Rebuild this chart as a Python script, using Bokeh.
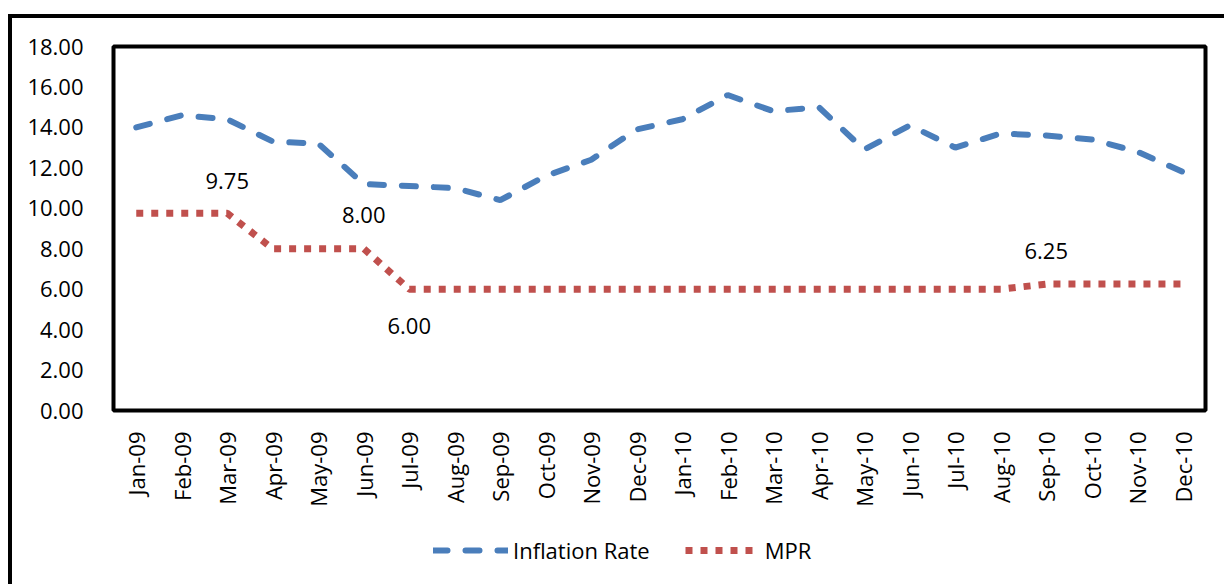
import math
from bokeh.plotting import figure
from bokeh.layouts import column
from bokeh.models import Range1d, FactorRange, Legend, LegendItem, NumeralTickFormatter, ColumnDataSource
from bokeh.core.properties import value
from bokeh.embed import file_html
from bokeh.resources import INLINE

months = ["Jan-09", "Feb-09", "Mar-09", "Apr-09", "May-09", "Jun-09", "Jul-09", "Aug-09",
          "Sep-09", "Oct-09", "Nov-09", "Dec-09", "Jan-10", "Feb-10", "Mar-10", "Apr-10",
          "May-10", "Jun-10", "Jul-10", "Aug-10", "Sep-10", "Oct-10", "Nov-10", "Dec-10"]
inflation = [14.0, 14.6, 14.4, 13.3, 13.2, 11.2, 11.1, 11.0, 10.4, 11.6, 12.4, 13.9,
             14.4, 15.6, 14.8, 15.0, 12.9, 14.1, 13.0, 13.7, 13.6, 13.4, 12.8, 11.8]
mpr = [9.75, 9.75, 9.75, 8.00, 8.00, 8.00, 6.00, 6.00, 6.00, 6.00, 6.00, 6.00,
       6.00, 6.00, 6.00, 6.00, 6.00, 6.00, 6.00, 6.00, 6.25, 6.25, 6.25, 6.25]
label_months = ["Mar-09", "Jun-09", "Jul-09", "Sep-10"]
label_values = [9.75, 8.00, 6.00, 6.25]
label_texts = ["9.75", "8.00", "6.00", "6.25"]
series_names = ["Inflation Rate", "MPR"]
y_ticks = [0, 2, 4, 6, 8, 10, 12, 14, 16, 18]

FONT = "Open Sans"
FS = "22px"
BLUE = dict(line_color="#4A7EBB", line_width=6, line_dash="14 18", line_cap="round")
RED = dict(line_color="#C0504D", line_width=7, line_dash="7 8", line_cap="butt")

p = figure(x_range=FactorRange(*months), y_range=Range1d(0, 18),
           width=1212, height=500, output_backend="svg", toolbar_location=None,
           min_border_left=101, min_border_top=28, min_border_right=19, min_border_bottom=108)

p.outline_line_color = "black"
p.outline_line_width = 4
p.xgrid.grid_line_color = None
p.ygrid.grid_line_color = None
p.background_fill_color = "white"
p.border_fill_color = "white"

p.yaxis.ticker = y_ticks
p.yaxis.formatter = NumeralTickFormatter(format="0.00")
p.yaxis.major_tick_line_color = None
p.yaxis.minor_tick_line_color = None
p.yaxis.axis_line_color = None
p.yaxis.major_label_standoff = 24
p.yaxis.major_label_text_font = FONT
p.yaxis.major_label_text_font_size = FS
p.yaxis.major_label_text_color = "black"

p.xaxis.major_tick_line_color = None
p.xaxis.minor_tick_line_color = None
p.xaxis.axis_line_color = None
p.xaxis.major_label_orientation = math.pi / 2
p.xaxis.major_label_standoff = 15
p.xaxis.major_label_text_font = FONT
p.xaxis.major_label_text_font_size = FS
p.xaxis.major_label_text_color = "black"

p.line(x=months, y=inflation, **BLUE)
p.line(x=months, y=mpr, **RED)

label_dy = [-32, -34, 37, -33]
src = ColumnDataSource(dict(x=label_months, y=label_values, t=label_texts, dy=label_dy))
p.text(x="x", y="y", text="t", y_offset="dy", source=src, text_align="center",
       text_baseline="middle", text_font=value(FONT), text_font_size=FS, text_color="black")

# legend strip below the chart (series drawn out of view; only the legend shows)
lg = figure(width=1212, height=66, output_backend="svg", toolbar_location=None,
            x_range=FactorRange(*months), y_range=Range1d(100, 101),
            x_axis_type=None, y_axis_type=None,
            min_border_left=0, min_border_right=0, min_border_top=0, min_border_bottom=0)
lg.outline_line_color = None
lg.xgrid.grid_line_color = None
lg.ygrid.grid_line_color = None
l1 = lg.line(x=months, y=inflation, **BLUE)
l2 = lg.line(x=months, y=mpr, **RED)
legend = Legend(items=[LegendItem(label=series_names[0], renderers=[l1]),
                       LegendItem(label=series_names[1], renderers=[l2])],
                orientation="horizontal", location=(320, 19), margin=0,
                border_line_color=None, background_fill_alpha=0,
                glyph_width=75, glyph_height=20, label_standoff=5, spacing=35,
                label_text_font=FONT, label_text_font_size=FS, label_text_color="black")
lg.add_layout(legend, "center")

layout = column(p, lg, spacing=0)
layout.styles = {"margin-left": "8px", "margin-top": "14px",
                 "border-left": "4px solid black", "border-top": "4px solid black"}

open("out.html", "w").write(file_html(layout, INLINE))
